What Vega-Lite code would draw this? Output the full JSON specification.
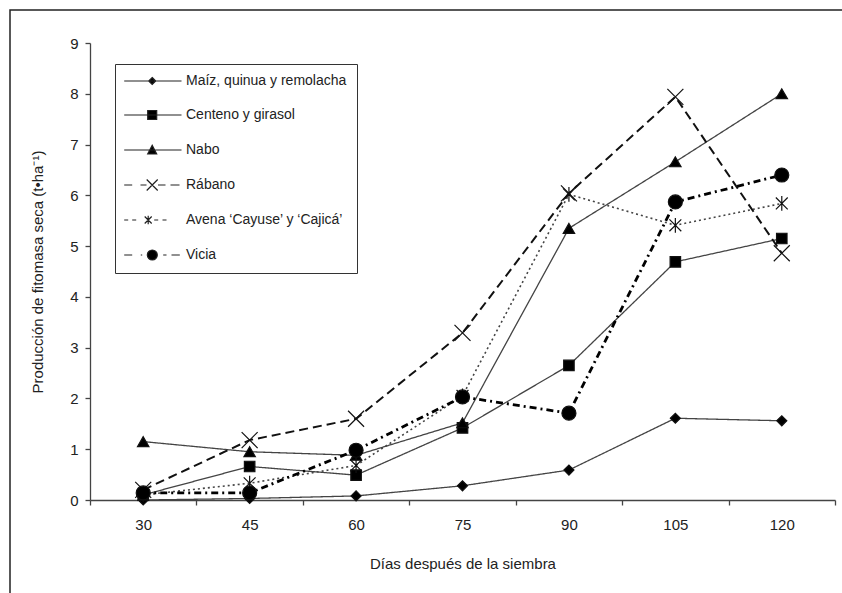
{
  "$schema": "https://vega.github.io/schema/vega-lite/v6.json",
  "autosize": {"type": "none"},
  "width": 842,
  "height": 593,
  "padding": {"left": 10, "top": 10, "right": -10, "bottom": -10},
  "background": "white",
  "config": {
    "view": {"stroke": "#222", "strokeWidth": 1.5},
    "axis": {
      "labelFont": "Liberation Sans",
      "titleFont": "Liberation Sans",
      "labelFontSize": 15,
      "titleFontSize": 15,
      "titleFontWeight": "normal",
      "labelColor": "#222",
      "titleColor": "#222",
      "domainColor": "#444",
      "tickColor": "#444",
      "domainWidth": 1.3,
      "tickWidth": 1.3,
      "tickSize": 5,
      "grid": false
    },
    "legend": {
      "labelFont": "Liberation Sans",
      "labelFontSize": 14,
      "labelColor": "#222"
    }
  },
  "data": {
    "values": [
      {"serie": "Maíz, quinua y remolacha", "dias": 30, "valor": 0.0},
      {"serie": "Maíz, quinua y remolacha", "dias": 45, "valor": 0.03},
      {"serie": "Maíz, quinua y remolacha", "dias": 60, "valor": 0.08},
      {"serie": "Maíz, quinua y remolacha", "dias": 75, "valor": 0.28},
      {"serie": "Maíz, quinua y remolacha", "dias": 90, "valor": 0.59},
      {"serie": "Maíz, quinua y remolacha", "dias": 105, "valor": 1.61},
      {"serie": "Maíz, quinua y remolacha", "dias": 120, "valor": 1.56},
      {"serie": "Centeno y girasol", "dias": 30, "valor": 0.1},
      {"serie": "Centeno y girasol", "dias": 45, "valor": 0.66},
      {"serie": "Centeno y girasol", "dias": 60, "valor": 0.49},
      {"serie": "Centeno y girasol", "dias": 75, "valor": 1.42},
      {"serie": "Centeno y girasol", "dias": 90, "valor": 2.65},
      {"serie": "Centeno y girasol", "dias": 105, "valor": 4.69},
      {"serie": "Centeno y girasol", "dias": 120, "valor": 5.15},
      {"serie": "Nabo", "dias": 30, "valor": 1.15},
      {"serie": "Nabo", "dias": 45, "valor": 0.95},
      {"serie": "Nabo", "dias": 60, "valor": 0.88},
      {"serie": "Nabo", "dias": 75, "valor": 1.52},
      {"serie": "Nabo", "dias": 90, "valor": 5.35},
      {"serie": "Nabo", "dias": 105, "valor": 6.66},
      {"serie": "Nabo", "dias": 120, "valor": 8.0},
      {"serie": "Rábano", "dias": 30, "valor": 0.2},
      {"serie": "Rábano", "dias": 45, "valor": 1.18},
      {"serie": "Rábano", "dias": 60, "valor": 1.6},
      {"serie": "Rábano", "dias": 75, "valor": 3.29},
      {"serie": "Rábano", "dias": 90, "valor": 6.04},
      {"serie": "Rábano", "dias": 105, "valor": 7.94},
      {"serie": "Rábano", "dias": 120, "valor": 4.86},
      {"serie": "Avena ‘Cayuse’ y ‘Cajicá’", "dias": 30, "valor": 0.1},
      {"serie": "Avena ‘Cayuse’ y ‘Cajicá’", "dias": 45, "valor": 0.33},
      {"serie": "Avena ‘Cayuse’ y ‘Cajicá’", "dias": 60, "valor": 0.68},
      {"serie": "Avena ‘Cayuse’ y ‘Cajicá’", "dias": 75, "valor": 2.05},
      {"serie": "Avena ‘Cayuse’ y ‘Cajicá’", "dias": 90, "valor": 6.02},
      {"serie": "Avena ‘Cayuse’ y ‘Cajicá’", "dias": 105, "valor": 5.41},
      {"serie": "Avena ‘Cayuse’ y ‘Cajicá’", "dias": 120, "valor": 5.84},
      {"serie": "Vicia", "dias": 30, "valor": 0.14},
      {"serie": "Vicia", "dias": 45, "valor": 0.14},
      {"serie": "Vicia", "dias": 60, "valor": 0.98},
      {"serie": "Vicia", "dias": 75, "valor": 2.03},
      {"serie": "Vicia", "dias": 90, "valor": 1.71},
      {"serie": "Vicia", "dias": 105, "valor": 5.87},
      {"serie": "Vicia", "dias": 120, "valor": 6.4}
    ]
  },
  "encoding": {
    "x": {
      "field": "dias",
      "type": "ordinal",
      "scale": {"type": "band", "domain": [30, 45, 60, 75, 90, 105, 120], "range": [80, 825], "paddingInner": 0, "paddingOuter": 0},
      "axis": {
        "title": "Días después de la siembra",
        "labelAngle": 0,
        "tickBand": "extent",
        "offset": -103,
        "labelPadding": 12,
        "titlePadding": 24
      }
    },
    "y": {
      "field": "valor",
      "type": "quantitative",
      "scale": {"domain": [0, 9], "range": [490, 33], "nice": false},
      "axis": {
        "title": "Producción de fitomasa seca (t•ha⁻¹)",
        "values": [0, 1, 2, 3, 4, 5, 6, 7, 8, 9],
        "offset": -80,
        "labelPadding": 7,
        "titlePadding": 24
      }
    }
  },
  "layer": [
    {
      "mark": {"type": "line"},
      "encoding": {
        "detail": {"field": "serie"},
        "strokeDash": {
          "field": "serie", "type": "nominal", "legend": null,
          "scale": {
            "domain": ["Maíz, quinua y remolacha", "Centeno y girasol", "Nabo", "Rábano", "Avena ‘Cayuse’ y ‘Cajicá’", "Vicia"],
            "range": [[1, 0], [1, 0], [1, 0], [9, 5], [2, 3], [7, 4, 2, 4]]
          }
        },
        "strokeWidth": {
          "field": "serie", "type": "nominal", "legend": null,
          "scale": {
            "type": "ordinal",
            "domain": ["Maíz, quinua y remolacha", "Centeno y girasol", "Nabo", "Rábano", "Avena ‘Cayuse’ y ‘Cajicá’", "Vicia"],
            "range": [1.3, 1.3, 1.3, 2.0, 1.6, 2.8]
          }
        },
        "stroke": {
          "field": "serie", "type": "nominal", "legend": null,
          "scale": {
            "domain": ["Maíz, quinua y remolacha", "Centeno y girasol", "Nabo", "Rábano", "Avena ‘Cayuse’ y ‘Cajicá’", "Vicia"],
            "range": ["#444", "#444", "#444", "#111", "#444", "#000"]
          }
        }
      }
    },
    {
      "mark": {"type": "point", "opacity": 1, "strokeWidth": 1.2},
      "encoding": {
        "shape": {
          "field": "serie", "type": "nominal", "legend": null,
          "scale": {
            "domain": ["Maíz, quinua y remolacha", "Centeno y girasol", "Nabo", "Rábano", "Avena ‘Cayuse’ y ‘Cajicá’", "Vicia"],
            "range": ["diamond", "square", "triangle-up", "M-1,-1L1,1M-1,1L1,-1", "M-0.8,-0.8L0.8,0.8M-0.8,0.8L0.8,-0.8M0,-1L0,1", "circle"]
          }
        },
        "size": {
          "field": "serie", "type": "nominal", "legend": null,
          "scale": {
            "type": "ordinal",
            "domain": ["Maíz, quinua y remolacha", "Centeno y girasol", "Nabo", "Rábano", "Avena ‘Cayuse’ y ‘Cajicá’", "Vicia"],
            "range": [100, 110, 130, 256, 220, 196]
          }
        },
        "fill": {
          "field": "serie", "type": "nominal", "legend": null,
          "scale": {
            "domain": ["Maíz, quinua y remolacha", "Centeno y girasol", "Nabo", "Rábano", "Avena ‘Cayuse’ y ‘Cajicá’", "Vicia"],
            "range": ["#000", "#000", "#000", "transparent", "transparent", "#000"]
          }
        },
        "stroke": {"value": "#111"}
      }
    },
    {
      "mark": {"type": "point", "opacity": 0, "filled": true, "color": "#000", "strokeWidth": 1.2},
      "encoding": {
        "shape": {
          "field": "serie", "type": "nominal",
          "scale": {
            "domain": ["Maíz, quinua y remolacha", "Centeno y girasol", "Nabo", "Rábano", "Avena ‘Cayuse’ y ‘Cajicá’", "Vicia"],
            "range": [
              "M-1.56,0H9.9M4.04,-0.7L4.74,0L4.04,0.7L3.34,0Z",
              "M-1.56,0H9.9M3.14,-0.9H4.94V0.9H3.14Z",
              "M-1.56,0H9.9M4.04,-0.95L4.94,0.8L3.14,0.8Z",
              "M-1.56,0H0.04M1.7,0H2.9M5.2,0H6.7M7.7,0H9.5M2.94,-1.1L5.14,1.1M2.94,1.1L5.14,-1.1",
              "M-1.56,0H-0.76M0.04,0H0.84M4.44,0H5.24M6.1,0H6.9M2.54,-0.7L3.94,0.7M2.54,0.7L3.94,-0.7M3.24,-0.85V0.85",
              "M-1.56,0H0.04M1.76,0H2.04M6.24,0H6.9M7.9,0H9.56M3.06,0A1,1 0 1,0 5.06,0A1,1 0 1,0 3.06,0Z"
            ]
          },
          "legend": {
            "title": null,
            "orient": "none",
            "legendX": 105,
            "legendY": 54,
            "padding": 10,
            "rowPadding": 20,
            "labelOffset": 47,
            "symbolSize": 100,
            "symbolStrokeWidth": 1.2,
            "symbolFillColor": "#000",
            "strokeColor": "#333",
            "fillColor": "white",
            "labelLimit": 300,
            "encode": {
              "legend": {
                "update": {"strokeWidth": {"value": 1.5}}
              }
            }
          }
        },
        "stroke": {
          "field": "serie", "type": "nominal",
          "scale": {
            "domain": ["Maíz, quinua y remolacha", "Centeno y girasol", "Nabo", "Rábano", "Avena ‘Cayuse’ y ‘Cajicá’", "Vicia"],
            "range": ["#222", "#222", "#222", "#222", "#222", "#222"]
          },
          "legend": {"title": null}
        }
      }
    }
  ],
  "resolve": {"scale": {"shape": "independent", "stroke": "independent", "fill": "independent"}}
}
